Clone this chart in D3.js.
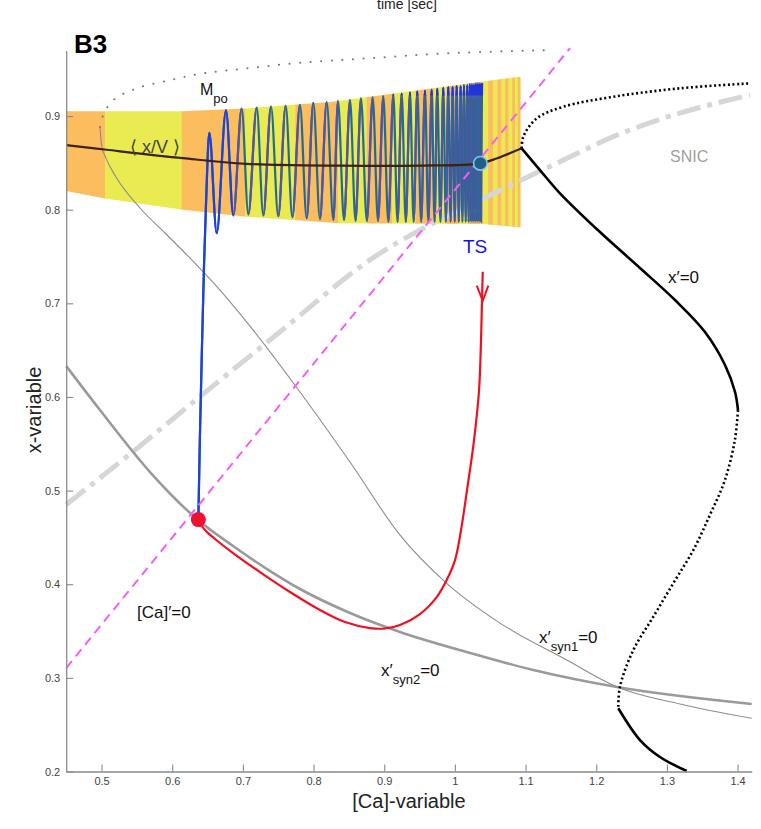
<!DOCTYPE html>
<html><head><meta charset="utf-8">
<script src="https://cdn.jsdelivr.net/npm/d3@7"></script>
<style>
html,body{margin:0;padding:0;background:#fff;}
svg{display:block;font-family:"Liberation Sans",Arial,Helvetica,sans-serif;}
</style></head>
<body>
<svg id="chart" width="761" height="829"></svg>
<script>
// ---------------- data ----------------
const xTicks = [0.5,0.6,0.7,0.8,0.9,1.0,1.1,1.2,1.3,1.4];
const yTicks = [0.2,0.3,0.4,0.5,0.6,0.7,0.8,0.9];

// colored time band (alternating orange / yellow stripes)
const bandX = [0.45,0.505,0.6135,0.703,0.774,0.835,0.875,0.911,0.944,0.97,0.988,1.005,1.019,1.04,1.047,1.054,1.06,1.066,1.071,1.076,1.081,1.085,1.089,1.093];
const bandColors = ["#fbbd5e","#e9eb50"];
const bandTopX = [0.45,0.6135,0.703,0.823,0.835,1.0395,1.093];
const bandTopY = [0.905,0.905,0.908,0.915,0.916,0.937,0.942];
const bandBotX = [0.45,0.505,0.615,0.705,0.837,1.0395,1.093];
const bandBotY = [0.82,0.812,0.80,0.7925,0.7854,0.7847,0.781];

// mean <x/V> curve
const meanX = [0.45,0.507,0.615,0.705,0.837,0.95,1.036,1.06,1.0945];
const meanY = [0.869,0.864,0.855,0.849,0.847,0.847,0.8495,0.855,0.8655];

// blue trajectory: rise from the fixed point, then oscillation peaks / troughs
const riseX = [0.637,0.639,0.642,0.645,0.648,0.6525];
const riseY = [0.469,0.55,0.65,0.74,0.81,0.882];
const troughX = [0.663,0.6865,0.7077,0.7289,0.7501,0.77,0.7903,0.8091,0.828,0.8431,0.8594,0.8754,0.8912,0.9058,0.9188,0.9305,0.9416,0.9522,0.9624,0.9712,0.9794,0.9872,0.9938,0.9997,1.0054,1.0105,1.0152,1.0194,1.0228,1.0256,1.0285,1.0313,1.0341,1.037];
const troughY = [0.775,0.794,0.795,0.794,0.793,0.792,0.791,0.790,0.789,0.789,0.788,0.788,0.788,0.787,0.787,0.787,0.787,0.787,0.787,0.787,0.787,0.787,0.787,0.787,0.787,0.787,0.787,0.787,0.787,0.787,0.787,0.787,0.787,0.787];
const peakX = [0.6761,0.6983,0.7196,0.7398,0.7606,0.7808,0.7997,0.8186,0.8346,0.8516,0.8671,0.8837,0.8987,0.9129,0.9247,0.9365,0.9468,0.9577,0.9672,0.9751,0.9836,0.9907,0.9969,1.0026,1.0082,1.0129,1.0176,1.0214,1.0242,1.027,1.0299,1.0327,1.0355,1.0384];
const peakY = [0.906,0.908,0.909,0.910,0.911,0.912,0.914,0.915,0.916,0.917,0.919,0.920,0.921,0.923,0.924,0.925,0.926,0.927,0.928,0.929,0.930,0.931,0.931,0.932,0.932,0.933,0.933,0.934,0.934,0.934,0.935,0.935,0.935,0.935];

// red trajectory (from TS arrow to the fixed point)
const redX = [1.0394,1.0384,1.037,1.0342,1.0271,1.0172,1.0087,1.0002,0.9884,0.9743,0.9506,0.9224,0.9011,0.8799,0.8445,0.8091,0.7667,0.7242,0.6861,0.6606,0.6464,0.6365];
const redY = [0.7337,0.7029,0.6608,0.6074,0.554,0.5006,0.4579,0.4258,0.4045,0.3863,0.3682,0.3564,0.3527,0.3532,0.3596,0.3725,0.3917,0.4130,0.4333,0.4483,0.4579,0.4686];

// nullclines
const syn1X = [0.4978,0.5,0.5063,0.5205,0.5544,0.5898,0.6252,0.6676,0.7101,0.7808,0.8516,0.9224,0.9884,1.0639,1.1582,1.229,1.3185,1.42];
const syn1Y = [0.8883,0.869,0.8551,0.8348,0.8018,0.7751,0.7483,0.7142,0.6757,0.6053,0.5305,0.4525,0.401,0.3585,0.3191,0.2905,0.272,0.2568];
const syn2X = [0.45,0.4978,0.5686,0.6365,0.6861,0.7342,0.7809,0.8516,0.9224,1.0167,1.111,1.2294,1.42];
const syn2Y = [0.633,0.586,0.5198,0.4686,0.4408,0.4162,0.3949,0.3693,0.349,0.3276,0.3084,0.2902,0.2721];
const caNullX = [0.45,1.163];
const caNullY = [0.3105,0.9726];
const snicX = [0.45,0.55,0.65,0.75,0.8796,1.045,1.1487,1.2237,1.309,1.4176];
const snicY = [0.485,0.545,0.607,0.668,0.7462,0.8138,0.8512,0.8779,0.901,0.9224];
const mpoX = [0.4978,0.5025,0.5166,0.5498,0.5969,0.644,0.7054,0.7808,0.8752,0.9884,1.1346];
const mpoY = [0.8883,0.9011,0.9171,0.9296,0.9384,0.9456,0.9509,0.9569,0.9616,0.967,0.9705];
// x'=0 nullcline pieces
const xnUpDotX = [1.0945,1.0968,1.1158,1.1534,1.2242,1.3185,1.4176];
const xnUpDotY = [0.8655,0.8779,0.8975,0.9099,0.9206,0.9296,0.9349];
const xnMidX = [1.0945,1.1204,1.1487,1.2053,1.2619,1.3114,1.3539,1.3822,1.3964,1.4006];
const xnMidY = [0.8655,0.8423,0.8175,0.7761,0.7377,0.7035,0.6693,0.6341,0.6053,0.586];
const xnLowDotX = [1.4006,1.3962,1.3821,1.3608,1.3374,1.309,1.2808,1.2525,1.2336,1.2312];
const xnLowDotY = [0.586,0.5539,0.5112,0.4739,0.4365,0.401,0.3653,0.3297,0.2905,0.2675];
const xnBotX = [1.2312,1.2619,1.2902,1.328];
const xnBotY = [0.2675,0.2336,0.2155,0.2005];

const fixedPoint = [0.637,0.469];
const tsPoint = [1.036,0.8495];

// ---------------- drawing ----------------
const svg = d3.select("#chart");
const x = d3.scaleLinear().domain([0.45,1.42]).range([66.2,751.7]);
const y = d3.scaleLinear().domain([0.2,0.97]).range([771.5,50.5]);
const zip = (a,b) => a.map((v,i)=>[v,b[i]]);
const line = d3.line().x(d=>x(d[0])).y(d=>y(d[1]));
const smooth = d3.line().x(d=>x(d[0])).y(d=>y(d[1])).curve(d3.curveCatmullRom.alpha(0.5));
const mono = d3.line().x(d=>x(d[0])).y(d=>y(d[1])).curve(d3.curveMonotoneX);

const defs = svg.append("defs");
// band clip
const topPts = zip(bandTopX,bandTopY).sort((a,b)=>a[0]-b[0]);
const botPts = zip(bandBotX,bandBotY);
const bandPoly = topPts.concat(botPts.slice().reverse());
defs.append("clipPath").attr("id","bandClip").append("path")
  .attr("d", line(bandPoly) + "Z");

const gBand = svg.append("g").attr("clip-path","url(#bandClip)");
for (let i=0;i<bandX.length-1;i++){
  gBand.append("rect")
    .attr("x", x(bandX[i])).attr("width", x(bandX[i+1])-x(bandX[i])+0.3)
    .attr("y", y(0.96)).attr("height", y(0.77)-y(0.96))
    .attr("fill", bandColors[i%2]);
}

// SNIC
svg.append("path").attr("d", mono(zip(snicX,snicY)))
  .attr("fill","none").attr("stroke","#d6d6d6").attr("stroke-width",5)
  .attr("stroke-dasharray","24,7,5,7");

// x'syn2 (thick) and x'syn1 (thin)
svg.append("path").attr("d", mono(zip(syn2X,syn2Y)))
  .attr("fill","none").attr("stroke","#9a9a9a").attr("stroke-width",2.6);
svg.append("path").attr("d", mono(zip(syn1X,syn1Y)))
  .attr("fill","none").attr("stroke","#8c8c8c").attr("stroke-width",1.1);

// Mpo dotted
svg.append("path").attr("d", smooth(zip(mpoX,mpoY)))
  .attr("fill","none").attr("stroke","#777").attr("stroke-width",2)
  .attr("stroke-linecap","round").attr("stroke-dasharray","0.1,10.5");

// blue trajectory
const bluePts = zip(riseX,riseY);
for (let i=0;i<troughX.length;i++){
  bluePts.push([troughX[i],troughY[i]]);
  bluePts.push([peakX[i],peakY[i]]);
}
const blueD = mono(bluePts);
const riseClip = defs.append("clipPath").attr("id","riseClip");
for (let i=1;i<troughX.length;i++){
  riseClip.append("rect").attr("x", x(troughX[i])).attr("width", x(peakX[i])-x(troughX[i]))
    .attr("y",0).attr("height",829);
}
defs.append("clipPath").attr("id","firstClip").append("rect")
  .attr("x",0).attr("width", x(troughX[1])).attr("y",0).attr("height",829);
defs.append("clipPath").attr("id","tipClip").append("rect")
  .attr("x",0).attr("width",761).attr("y",0).attr("height", y(0.922));

svg.append("path").attr("d", blueD).attr("fill","none")
  .attr("stroke","#1f6d8e").attr("stroke-width",2.2);
svg.append("path").attr("d", blueD).attr("fill","none").attr("clip-path","url(#riseClip)")
  .attr("stroke","#5652a6").attr("stroke-width",2.2);
svg.append("path").attr("d", blueD).attr("fill","none").attr("clip-path","url(#tipClip)")
  .attr("stroke","#2233dd").attr("stroke-width",2.2);
svg.append("path").attr("d", blueD).attr("fill","none").attr("clip-path","url(#firstClip)")
  .attr("stroke","#1f3fe0").attr("stroke-width",2.2);

// [Ca]'=0 pink dashed
svg.append("path").attr("d", line(zip(caNullX,caNullY)))
  .attr("fill","none").attr("stroke","#f45ef4").attr("stroke-width",2)
  .attr("stroke-dasharray","9,6");

// mean <x/V>
svg.append("path").attr("d", smooth(zip(meanX,meanY)))
  .attr("fill","none").attr("stroke","#3d2108").attr("stroke-width",2.2);

// x'=0 nullcline
svg.append("path").attr("d", smooth(zip(xnUpDotX,xnUpDotY)))
  .attr("fill","none").attr("stroke","#000").attr("stroke-width",2.6)
  .attr("stroke-dasharray","2,2.6");
svg.append("path").attr("d", smooth(zip(xnMidX,xnMidY)))
  .attr("fill","none").attr("stroke","#000").attr("stroke-width",2.6);
svg.append("path").attr("d", smooth(zip(xnLowDotX,xnLowDotY)))
  .attr("fill","none").attr("stroke","#000").attr("stroke-width",2.6)
  .attr("stroke-dasharray","2,2.6");
svg.append("path").attr("d", smooth(zip(xnBotX,xnBotY)))
  .attr("fill","none").attr("stroke","#000").attr("stroke-width",2.6);

// red trajectory + arrow
svg.append("path").attr("d", smooth(zip(redX,redY)))
  .attr("fill","none").attr("stroke","#ee1122").attr("stroke-width",2.2);
const ax = redX[0], ay = redY[1];
svg.append("path").attr("d", line([[ax-0.0085,ay+0.016],[ax,ay-0.0002],[ax+0.0079,ay+0.016]]))
  .attr("fill","none").attr("stroke","#ee1122").attr("stroke-width",2);

// points
svg.append("circle").attr("cx",x(fixedPoint[0])).attr("cy",y(fixedPoint[1])).attr("r",7.5)
  .attr("fill","#ee1133");
svg.append("circle").attr("cx",x(tsPoint[0])).attr("cy",y(tsPoint[1])).attr("r",6.8)
  .attr("fill","#1d5f86").attr("stroke","#8cc0ea").attr("stroke-width",1.6);

// axes
const fmt = d3.format("~g");
const xAxis = svg.append("g").attr("transform",`translate(0,${y(0.2)})`)
  .call(d3.axisBottom(x).tickValues(xTicks).tickFormat(fmt).tickSizeInner(-7).tickSizeOuter(0).tickPadding(6));
const yAxis = svg.append("g").attr("transform",`translate(${x(0.45)},0)`)
  .call(d3.axisLeft(y).tickValues(yTicks).tickFormat(fmt).tickSizeInner(-7).tickSizeOuter(0).tickPadding(6));
[xAxis,yAxis].forEach(g=>{
  g.select(".domain").attr("stroke","#8a8a8a").attr("stroke-width",1.3);
  g.selectAll(".tick line").attr("stroke","#8a8a8a").attr("stroke-width",1.1);
  g.selectAll(".tick text").attr("fill","#444").attr("font-size",11)
    .attr("font-family","'Liberation Sans',Arial,sans-serif");
});

// labels
svg.append("text").attr("x",409).attr("y",808).attr("text-anchor","middle")
  .attr("font-size",20).attr("fill","#222").text("[Ca]-variable");
svg.append("text").attr("transform","translate(41,410) rotate(-90)").attr("text-anchor","middle")
  .attr("font-size",20).attr("fill","#222").text("x-variable");
svg.append("text").attr("x",407).attr("y",9).attr("text-anchor","middle")
  .attr("font-size",14).attr("fill","#222").text("time [sec]");
svg.append("text").attr("x",74).attr("y",53).attr("font-size",26).attr("font-weight","bold")
  .attr("fill","#000").text("B3");

const tM = svg.append("text").attr("x",200).attr("y",95).attr("font-size",16).attr("fill","#111");
tM.append("tspan").text("M");
tM.append("tspan").attr("dy",8).attr("font-size",13).text("po");

svg.append("text").attr("x",155).attr("y",153).attr("text-anchor","middle")
  .attr("font-size",18).attr("fill","#444").text("\u27E8 x/V \u27E9");

svg.append("text").attr("x",463).attr("y",253).attr("font-size",19)
  .attr("fill","#1515e0").text("TS");
svg.append("text").attr("x",670).attr("y",162).attr("font-size",16)
  .attr("fill","#a0a0a0").text("SNIC");

svg.append("text").attr("x",668).attr("y",283).attr("font-size",17).attr("fill","#111").text("x\u2032=0");
svg.append("text").attr("x",137).attr("y",618).attr("font-size",17).attr("fill","#111").text("[Ca]\u2032=0");

const tS1 = svg.append("text").attr("x",539).attr("y",643).attr("font-size",17).attr("fill","#111");
tS1.append("tspan").text("x\u2032");
tS1.append("tspan").attr("dy",8).attr("font-size",13).text("syn1");
tS1.append("tspan").attr("dy",-8).text("=0");

const tS2 = svg.append("text").attr("x",381).attr("y",676).attr("font-size",17).attr("fill","#111");
tS2.append("tspan").text("x\u2032");
tS2.append("tspan").attr("dy",8).attr("font-size",13).text("syn2");
tS2.append("tspan").attr("dy",-8).text("=0");
</script>
</body></html>
